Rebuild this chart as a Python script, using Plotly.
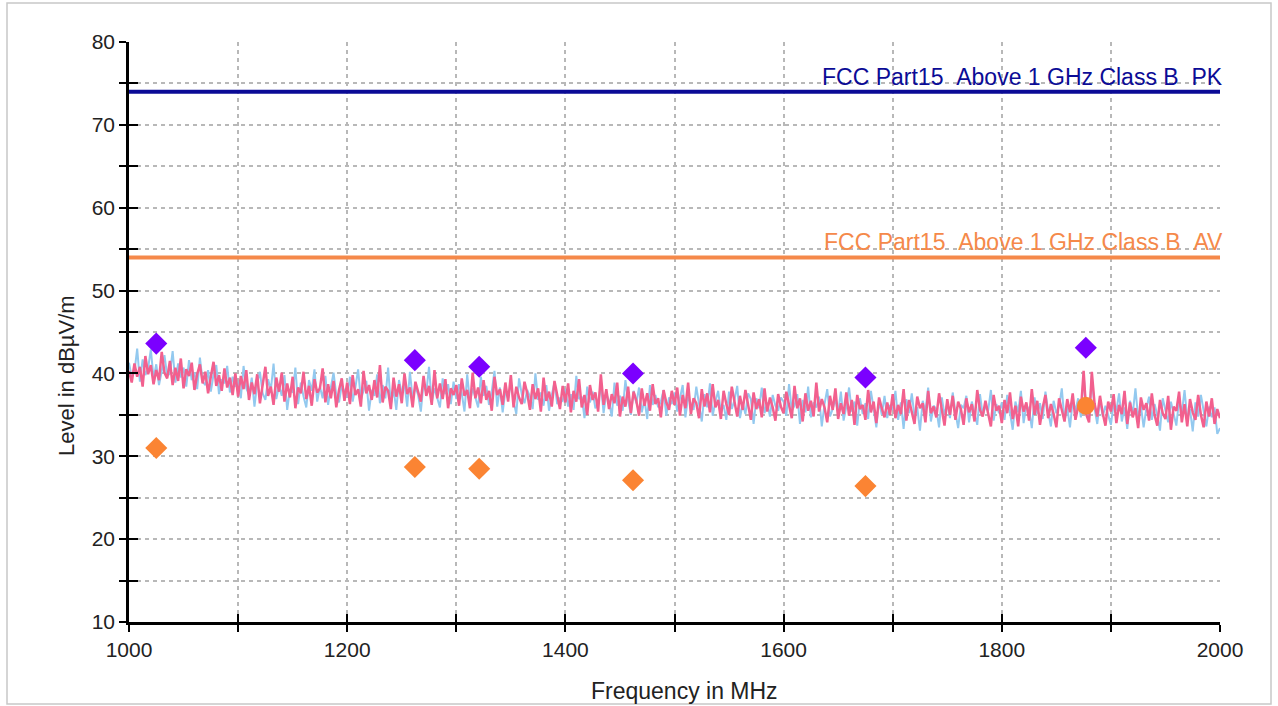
import plotly.graph_objects as go

# ---------------- data ----------------
freq_start = 1000
freq_step = 2.5

# pink trace (drawn on top), one value per 2.5 MHz
level_pink = [
    40.3, 38.9, 41.2, 39.6, 40.8, 38.4, 42.1, 39.9, 41.0, 38.7,
    40.4, 39.2, 42.6, 40.1, 39.4, 41.5, 38.6, 40.7, 39.1, 41.8,
    38.2, 40.5, 39.7, 41.3, 38.0, 39.9, 41.1, 38.8, 40.2, 37.6,
    39.6, 41.4, 38.5, 39.8, 37.9, 40.6, 38.3, 39.5, 37.4, 40.0,
    37.2, 39.7, 38.1, 40.4, 36.8, 38.9, 37.5, 39.9, 36.4, 38.6,
    40.8, 37.3, 38.4, 36.2, 39.5, 37.8, 40.1, 36.6, 38.8, 37.1,
    39.6, 35.8, 38.3, 37.6, 40.2, 36.9, 38.5, 36.1, 39.3, 37.7,
    38.2, 40.6, 36.5, 38.7, 37.0, 39.1, 35.9, 38.0, 39.4, 36.7,
    38.9, 36.3, 39.8, 37.4, 38.1, 36.0, 40.3, 37.6, 38.6, 36.8,
    39.2, 37.1, 41.0, 36.5, 38.4, 37.9, 35.7, 39.5, 37.2, 38.7,
    36.4, 40.0, 37.5, 38.3, 35.9, 39.0, 37.8, 36.6, 39.7, 37.3,
    38.5, 36.2, 40.4, 37.0, 38.8, 36.9, 39.3, 35.8, 38.2, 37.4,
    38.6, 36.1, 39.4, 37.3, 38.0, 35.8, 40.1, 37.0, 38.3, 36.4,
    39.2, 36.8, 37.9, 35.5, 39.6, 37.4, 38.1, 36.2, 38.9, 36.6,
    39.8, 35.9, 38.4, 37.1, 36.3, 39.0, 37.6, 35.6, 38.7, 36.9,
    38.2, 35.4, 39.5, 36.7, 37.8, 36.0, 39.1, 37.2, 35.7, 38.5,
    36.5, 38.8, 35.3, 37.9, 36.6, 39.3, 35.9, 37.4, 35.0, 38.6,
    36.8, 37.7, 35.4, 39.9, 36.2, 38.1, 35.7, 37.5, 36.4, 38.9,
    34.8, 37.2, 36.0, 38.4, 35.2, 37.8, 36.7, 34.9, 38.2, 36.1,
    37.6, 35.5, 38.7, 36.3, 37.0, 34.7, 38.0, 36.5, 35.6, 37.9,
    36.2, 38.3, 34.9, 37.4, 35.8, 38.9, 35.1, 37.0, 36.4, 34.6,
    38.1, 36.0, 37.6, 35.3, 38.7, 35.9, 36.8, 34.5, 37.9, 36.3,
    35.0, 38.4, 36.6, 34.8, 37.3, 35.6, 38.0, 36.1, 34.4, 37.7,
    35.7, 36.9, 34.7, 38.2, 35.4, 37.1, 35.9, 34.3, 37.5, 36.0,
    35.2, 37.8, 36.3, 34.6, 38.5, 35.8, 37.0, 34.2, 37.6, 35.5,
    36.7, 34.8, 38.9, 35.4, 36.9, 35.9, 34.1, 37.3, 35.6, 38.2,
    34.5, 36.4, 35.1, 37.7, 34.9, 36.8, 33.8, 37.4, 35.7, 36.2,
    34.4, 38.0, 35.3, 36.6, 34.0, 37.1, 35.8, 34.7, 36.5, 35.0,
    37.5, 34.6, 36.2, 35.1, 38.1, 34.3, 36.8, 35.5, 33.9, 37.2,
    35.8, 36.4, 34.1, 37.9, 35.2, 36.0, 34.7, 37.6, 35.4, 33.7,
    36.9, 35.0, 37.3, 34.4, 36.6, 35.7, 33.8, 37.0, 35.3, 36.3,
    34.2, 38.0, 35.6, 34.8, 36.7, 35.1, 33.6, 37.4, 35.5, 36.1,
    34.0, 36.8, 35.2, 37.7, 34.5, 36.1, 33.6, 37.2, 35.4, 36.5,
    34.3, 38.1, 35.0, 36.7, 33.8, 35.9, 37.4, 34.6, 36.3, 35.1,
    33.5, 37.0, 35.7, 34.2, 36.9, 35.3, 37.6, 34.4, 36.0, 35.5,
    40.3, 35.0, 34.1, 40.2, 36.4, 34.8, 37.3, 35.2, 33.7, 36.6,
    35.4, 37.5, 34.0, 36.2, 35.1, 37.9, 33.9, 36.5, 34.7, 35.8,
    33.4, 37.1, 35.6, 36.4, 34.3, 37.6, 35.0, 33.7, 36.8, 35.2,
    34.5, 37.3, 33.2, 36.0, 35.5, 37.8, 34.1, 36.3, 33.6, 36.9,
    35.3, 34.4, 37.4, 35.0, 33.5, 36.6, 34.8, 37.0, 33.9, 35.7,
    34.6,
]

# light blue trace (drawn underneath), one value per 2.5 MHz
level_blue = [
    41.3, 39.5, 40.2, 43.0, 39.0, 41.7, 39.8, 40.6, 42.9, 39.4,
    41.1, 38.6, 40.3, 42.2, 39.7, 40.0, 42.7, 38.9, 41.2, 39.5,
    40.7, 38.4, 41.6, 39.2, 40.1, 38.1, 41.9, 39.0, 38.6, 40.4,
    37.8, 39.9, 41.0, 37.5, 39.3, 38.8, 40.9, 37.7, 39.6, 38.4,
    39.0, 37.0, 40.9, 38.2, 37.4, 39.5, 36.0, 38.8, 40.2, 37.6,
    36.8, 39.3, 38.0, 41.2, 36.9, 38.5, 37.3, 39.8, 35.6, 38.1,
    37.7, 40.7, 36.3, 38.9, 37.2, 35.9, 39.2, 37.9, 40.5, 36.6,
    38.4, 37.0, 39.7, 36.2, 38.3, 40.1, 37.4, 36.5, 38.6, 37.8,
    37.1, 39.6, 36.6, 38.3, 40.5, 36.8, 37.9, 39.1, 35.5, 38.0,
    37.3, 39.9, 36.4, 38.6, 37.0, 40.7, 36.2, 38.1, 35.6, 39.2,
    37.6, 38.8, 36.0, 40.2, 36.9, 38.4, 37.4, 35.4, 38.9, 37.7,
    40.8, 36.5, 38.2, 37.1, 35.9, 39.4, 37.5, 38.7, 36.3, 39.0,
    36.9, 38.7, 37.6, 35.4, 39.9, 36.5, 38.2, 37.1, 35.9, 39.6,
    37.3, 38.5, 36.2, 37.8, 40.3, 36.0, 38.3, 35.3, 37.9, 37.0,
    38.8, 36.6, 35.1, 39.4, 37.5, 36.4, 38.0, 37.2, 35.7, 40.0,
    36.8, 37.7, 36.1, 38.6, 35.5, 37.4, 38.9, 36.3, 37.0, 36.7,
    38.1, 36.0, 37.5, 35.6, 39.7, 36.9, 37.2, 34.6, 38.4, 36.5,
    37.8, 35.8, 36.3, 38.7, 35.2, 37.6, 36.6, 34.8, 38.9, 36.1,
    37.3, 35.5, 39.2, 36.7, 35.0, 37.9, 36.4, 38.3, 35.3, 36.8,
    34.5, 38.6, 36.2, 37.4, 35.9, 36.6, 38.0, 34.9, 37.1, 36.3,
    37.7, 35.4, 36.9, 38.6, 34.7, 37.2, 36.3, 35.6, 38.4, 36.0,
    34.2, 37.5, 35.9, 38.8, 34.9, 36.6, 37.9, 35.3, 36.2, 34.4,
    37.8, 35.7, 36.8, 38.5, 34.6, 36.4, 35.1, 37.6, 36.9, 33.9,
    37.0, 35.8, 38.3, 35.2, 36.5, 34.8, 37.4, 36.1, 35.5, 37.1,
    36.6, 34.9, 38.7, 35.5, 36.1, 37.5, 33.9, 36.8, 35.3, 38.4,
    34.7, 36.5, 35.9, 37.2, 33.6, 36.3, 38.1, 34.8, 35.7, 36.9,
    35.2, 37.8, 34.3, 36.0, 38.3, 35.4, 36.6, 33.7, 37.0, 35.1,
    36.4, 34.5, 37.9, 35.8, 33.5, 36.7, 35.0, 37.3, 34.6, 36.2,
    35.6, 37.9, 34.4, 36.5, 33.3, 36.9, 35.2, 37.6, 34.8, 35.9,
    33.1, 36.7, 35.4, 38.3, 34.2, 36.1, 35.7, 33.5, 37.1, 35.0,
    36.4, 34.6, 37.7, 35.3, 33.4, 36.2, 35.8, 37.3, 34.1, 36.6,
    35.1, 33.8, 37.5, 34.9, 36.0, 35.5, 38.0, 34.3, 36.3, 35.2,
    36.5, 34.4, 37.4, 35.0, 33.2, 36.6, 35.3, 37.9, 34.0, 36.2,
    35.6, 33.4, 37.1, 35.1, 36.4, 34.5, 37.8, 35.4, 33.6, 36.7,
    35.2, 36.0, 38.2, 34.3, 35.9, 33.5, 36.8, 35.5, 37.0, 34.7,
    39.9, 35.4, 34.6, 39.7, 35.8, 33.9, 36.9, 34.8, 36.1, 35.0,
    33.8, 36.4, 35.5, 37.6, 34.2, 35.9, 33.3, 36.7, 35.1, 38.2,
    34.6, 36.1, 33.5, 35.8, 37.2, 34.4, 36.3, 35.0, 33.1, 37.0,
    35.6, 34.1, 36.6, 35.3, 33.7, 36.9, 35.2, 38.0, 34.5, 35.7,
    33.0, 36.5, 34.8, 37.4, 35.4, 33.6, 36.0, 34.7, 35.9, 32.7,
    33.4,
]

freq_pink = [freq_start + freq_step * i for i in range(len(level_pink))]
freq_blue = [freq_start + freq_step * i for i in range(len(level_blue))]

# final measurement points
peak_freq = [1025, 1262, 1321, 1462, 1675, 1877]
peak_level = [43.6, 41.6, 40.8, 40.0, 39.5, 43.1]
avg_freq = [1025, 1262, 1321, 1462, 1675]
avg_level = [31.0, 28.7, 28.5, 27.1, 26.4]
avg_extra_freq = [1877]
avg_extra_level = [36.1]

# limit lines
limit_freq = [1000, 2000]
limit_pk = [74, 74]
limit_av = [54, 54]
limit_pk_label = "FCC Part15\u00a0\u00a0Above 1 GHz Class B\u00a0\u00a0PK"
limit_av_label = "FCC Part15\u00a0\u00a0Above 1 GHz Class B\u00a0\u00a0AV"

x_range = [1000, 2000]
y_range = [10, 80]
xtick_vals = [1000, 1100, 1200, 1300, 1400, 1500, 1600, 1700, 1800, 1900, 2000]
xtick_text = ["1000", "", "1200", "", "1400", "", "1600", "", "1800", "", "2000"]
ytick_vals = [10, 15, 20, 25, 30, 35, 40, 45, 50, 55, 60, 65, 70, 75, 80]
ytick_text = ["10", "", "20", "", "30", "", "40", "", "50", "", "60", "", "70", "", "80"]
x_title = "Frequency in MHz"
y_title = "Level in dBµV/m"

# ---------------- styles ----------------
FONT = "Liberation Sans, Arial, sans-serif"
C_PK = "#0b0b96"
C_AV = "#f5894a"
C_PINK = "#f2608e"
C_BLUE = "#93c9ef"
C_PURPLE = "#7b00ff"
C_ORANGE = "#fb8433"
GRID = "#b8b8b8"

fig = go.Figure()

fig.add_trace(go.Scatter(x=limit_freq, y=limit_pk, mode="lines",
                         line=dict(color=C_PK, width=4), hoverinfo="skip"))
fig.add_trace(go.Scatter(x=limit_freq, y=limit_av, mode="lines",
                         line=dict(color=C_AV, width=4), hoverinfo="skip"))
fig.add_trace(go.Scatter(x=freq_blue, y=level_blue, mode="lines",
                         line=dict(color=C_BLUE, width=2)))
fig.add_trace(go.Scatter(x=freq_pink, y=level_pink, mode="lines",
                         line=dict(color=C_PINK, width=2.5)))
fig.add_trace(go.Scatter(x=peak_freq, y=peak_level, mode="markers",
                         marker=dict(symbol="diamond", size=17, color=C_PURPLE)))
fig.add_trace(go.Scatter(x=avg_freq, y=avg_level, mode="markers",
                         marker=dict(symbol="diamond", size=17, color=C_ORANGE)))
fig.add_trace(go.Scatter(x=avg_extra_freq, y=avg_extra_level, mode="markers",
                         marker=dict(symbol="circle", size=18, color=C_ORANGE)))
# helper trace so the overlay axes (inner half of the crossing ticks) render
fig.add_trace(go.Scatter(x=[None], y=[None], xaxis="x2", yaxis="y2",
                         mode="markers", hoverinfo="skip"))

axis_common = dict(showline=True, linecolor="black", linewidth=2.5,
                   ticks="outside", ticklen=7, tickwidth=2, tickcolor="black",
                   showgrid=True, gridcolor=GRID, gridwidth=1.5, griddash="4px,4px",
                   zeroline=False, tickfont=dict(family=FONT, size=21, color="#222"))

fig.update_layout(
    width=1278, height=706,
    margin=dict(l=129, r=58, t=42, b=84),
    paper_bgcolor="white", plot_bgcolor="white",
    showlegend=False,
    font=dict(family=FONT, color="#222"),
    xaxis=dict(range=x_range, tickmode="array", tickvals=xtick_vals, ticktext=xtick_text,
               mirror=False, **axis_common),
    yaxis=dict(range=y_range, tickmode="array", tickvals=ytick_vals, ticktext=ytick_text,
               mirror=False, **axis_common),
    xaxis2=dict(overlaying="x", matches="x", anchor="y", side="bottom",
                range=x_range, tickmode="array", tickvals=xtick_vals,
                ticks="inside", ticklen=8, tickwidth=2, tickcolor="black",
                showticklabels=False, showgrid=False, showline=False, zeroline=False),
    yaxis2=dict(overlaying="y", matches="y", anchor="x", side="left",
                range=y_range, tickmode="array", tickvals=ytick_vals,
                ticks="inside", ticklen=9, tickwidth=2, tickcolor="black",
                showticklabels=False, showgrid=False, showline=False, zeroline=False),
)

fig.add_annotation(x=2000, y=74, xref="x", yref="y", text=limit_pk_label,
                   showarrow=False, xanchor="right", yanchor="bottom", xshift=5, yshift=0,
                   font=dict(family=FONT, size=23, color=C_PK))
fig.add_annotation(x=2000, y=54, xref="x", yref="y", text=limit_av_label,
                   showarrow=False, xanchor="right", yanchor="bottom", xshift=5, yshift=0,
                   font=dict(family=FONT, size=23, color=C_AV))

# axis titles
fig.add_annotation(x=(684 - 129) / 1091, y=(622 - 691) / 580, xref="paper", yref="paper",
                   text=x_title, showarrow=False, xanchor="center", yanchor="middle",
                   font=dict(family=FONT, size=23, color="#222"))
fig.add_annotation(x=(67 - 129) / 1091, y=(622 - 376) / 580, xref="paper", yref="paper",
                   text=y_title, showarrow=False, xanchor="center", yanchor="middle",
                   textangle=-90, font=dict(family=FONT, size=22, color="#222"))

# outer frame of the picture
fig.add_shape(type="rect", xref="paper", yref="paper",
              x0=(7 - 129) / 1091, x1=(1271 - 129) / 1091,
              y0=(622 - 704) / 580, y1=(622 - 3) / 580,
              line=dict(color="#c8c8c8", width=1.5), fillcolor="rgba(0,0,0,0)", layer="below")

fig.write_html("out.html", config={"displayModeBar": False},
               post_script="document.body.style.margin='0px';document.body.style.overflow='hidden';")
